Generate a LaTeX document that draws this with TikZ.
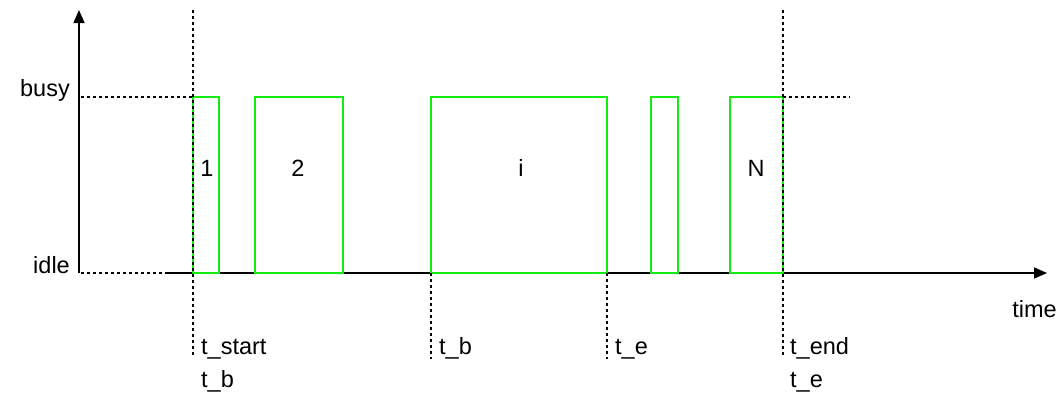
\documentclass[tikz,border=0pt]{standalone}
\usepackage{fontspec}
\setmainfont{Liberation Sans}
\usetikzlibrary{arrows.meta}
\definecolor{busygreen}{RGB}{20,235,20}
\tikzset{
  axisline/.style={line width=1.6pt, draw=black, -{Triangle[length=13pt,width=11pt]}},
  guide/.style={line width=1.4pt, draw=black, dash pattern=on 3pt off 3pt},
  period/.style={line width=1.8pt, draw=busygreen},
  lbl/.style={inner sep=0pt, font=\fontsize{23.5}{27}\selectfont},
}
\begin{document}
\begin{tikzpicture}[x=1pt,y=-1pt]
\useasboundingbox (0,0) rectangle (1062,394);
% coordinates
\coordinate (origin) at (79,273);
\coordinate (ytip) at (79,10);
\coordinate (xstart) at (165,273);
\coordinate (xtip) at (1047,273);
\coordinate (busyL) at (81,97);
\coordinate (idleL) at (81,273);
\coordinate (startTop) at (193,10);
\coordinate (startBot) at (193,357);
\coordinate (endTop) at (783,10);
\coordinate (endBot) at (783,357);
\coordinate (busyR) at (850,97);
\coordinate (tbTop) at (431,273);
\coordinate (tbBot) at (431,359);
\coordinate (teTop) at (607,273);
\coordinate (teBot) at (607,359);
% axes
\draw[axisline] (origin) -- (ytip);
\draw[axisline] (xstart) -- (xtip);
% busy periods
\draw[period] (193,273) rectangle (219,97);
\draw[period] (255,273) rectangle (343,97);
\draw[period] (431,273) rectangle (607,97);
\draw[period] (651,273) rectangle (678,97);
\draw[period] (730,273) rectangle (783,97);
% guides
\draw[guide] (busyL) -- (193,97);
\draw[guide] (idleL) -- (xstart);
\draw[guide] (783,97) -- (busyR);
\draw[guide] (startTop) -- (startBot);
\draw[guide] (endTop) -- (endBot);
\draw[guide] (tbTop) -- (tbBot);
\draw[guide] (teTop) -- (teBot);
% labels
\node[lbl, anchor=base east] (busy) at (70,96) {busy};
\node[lbl, anchor=base east] (idle) at (70,273) {idle};
\node[lbl, anchor=base east] (time) at (1057,317) {time};
\node[lbl, anchor=base] (p1) at (207,176) {1};
\node[lbl, anchor=base] (p2) at (298,176) {2};
\node[lbl, anchor=base] (pi) at (521,176) {i};
\node[lbl, anchor=base] (pN) at (756,176) {N};
\node[lbl, anchor=base west] (tstart) at (201,354) {t\_start};
\node[lbl, anchor=base west] (tb1) at (201,387) {t\_b};
\node[lbl, anchor=base west] (tb2) at (439,354) {t\_b};
\node[lbl, anchor=base west] (te1) at (615,354) {t\_e};
\node[lbl, anchor=base west] (tend) at (790,354) {t\_end};
\node[lbl, anchor=base west] (te2) at (790,387) {t\_e};
\end{tikzpicture}
\end{document}
